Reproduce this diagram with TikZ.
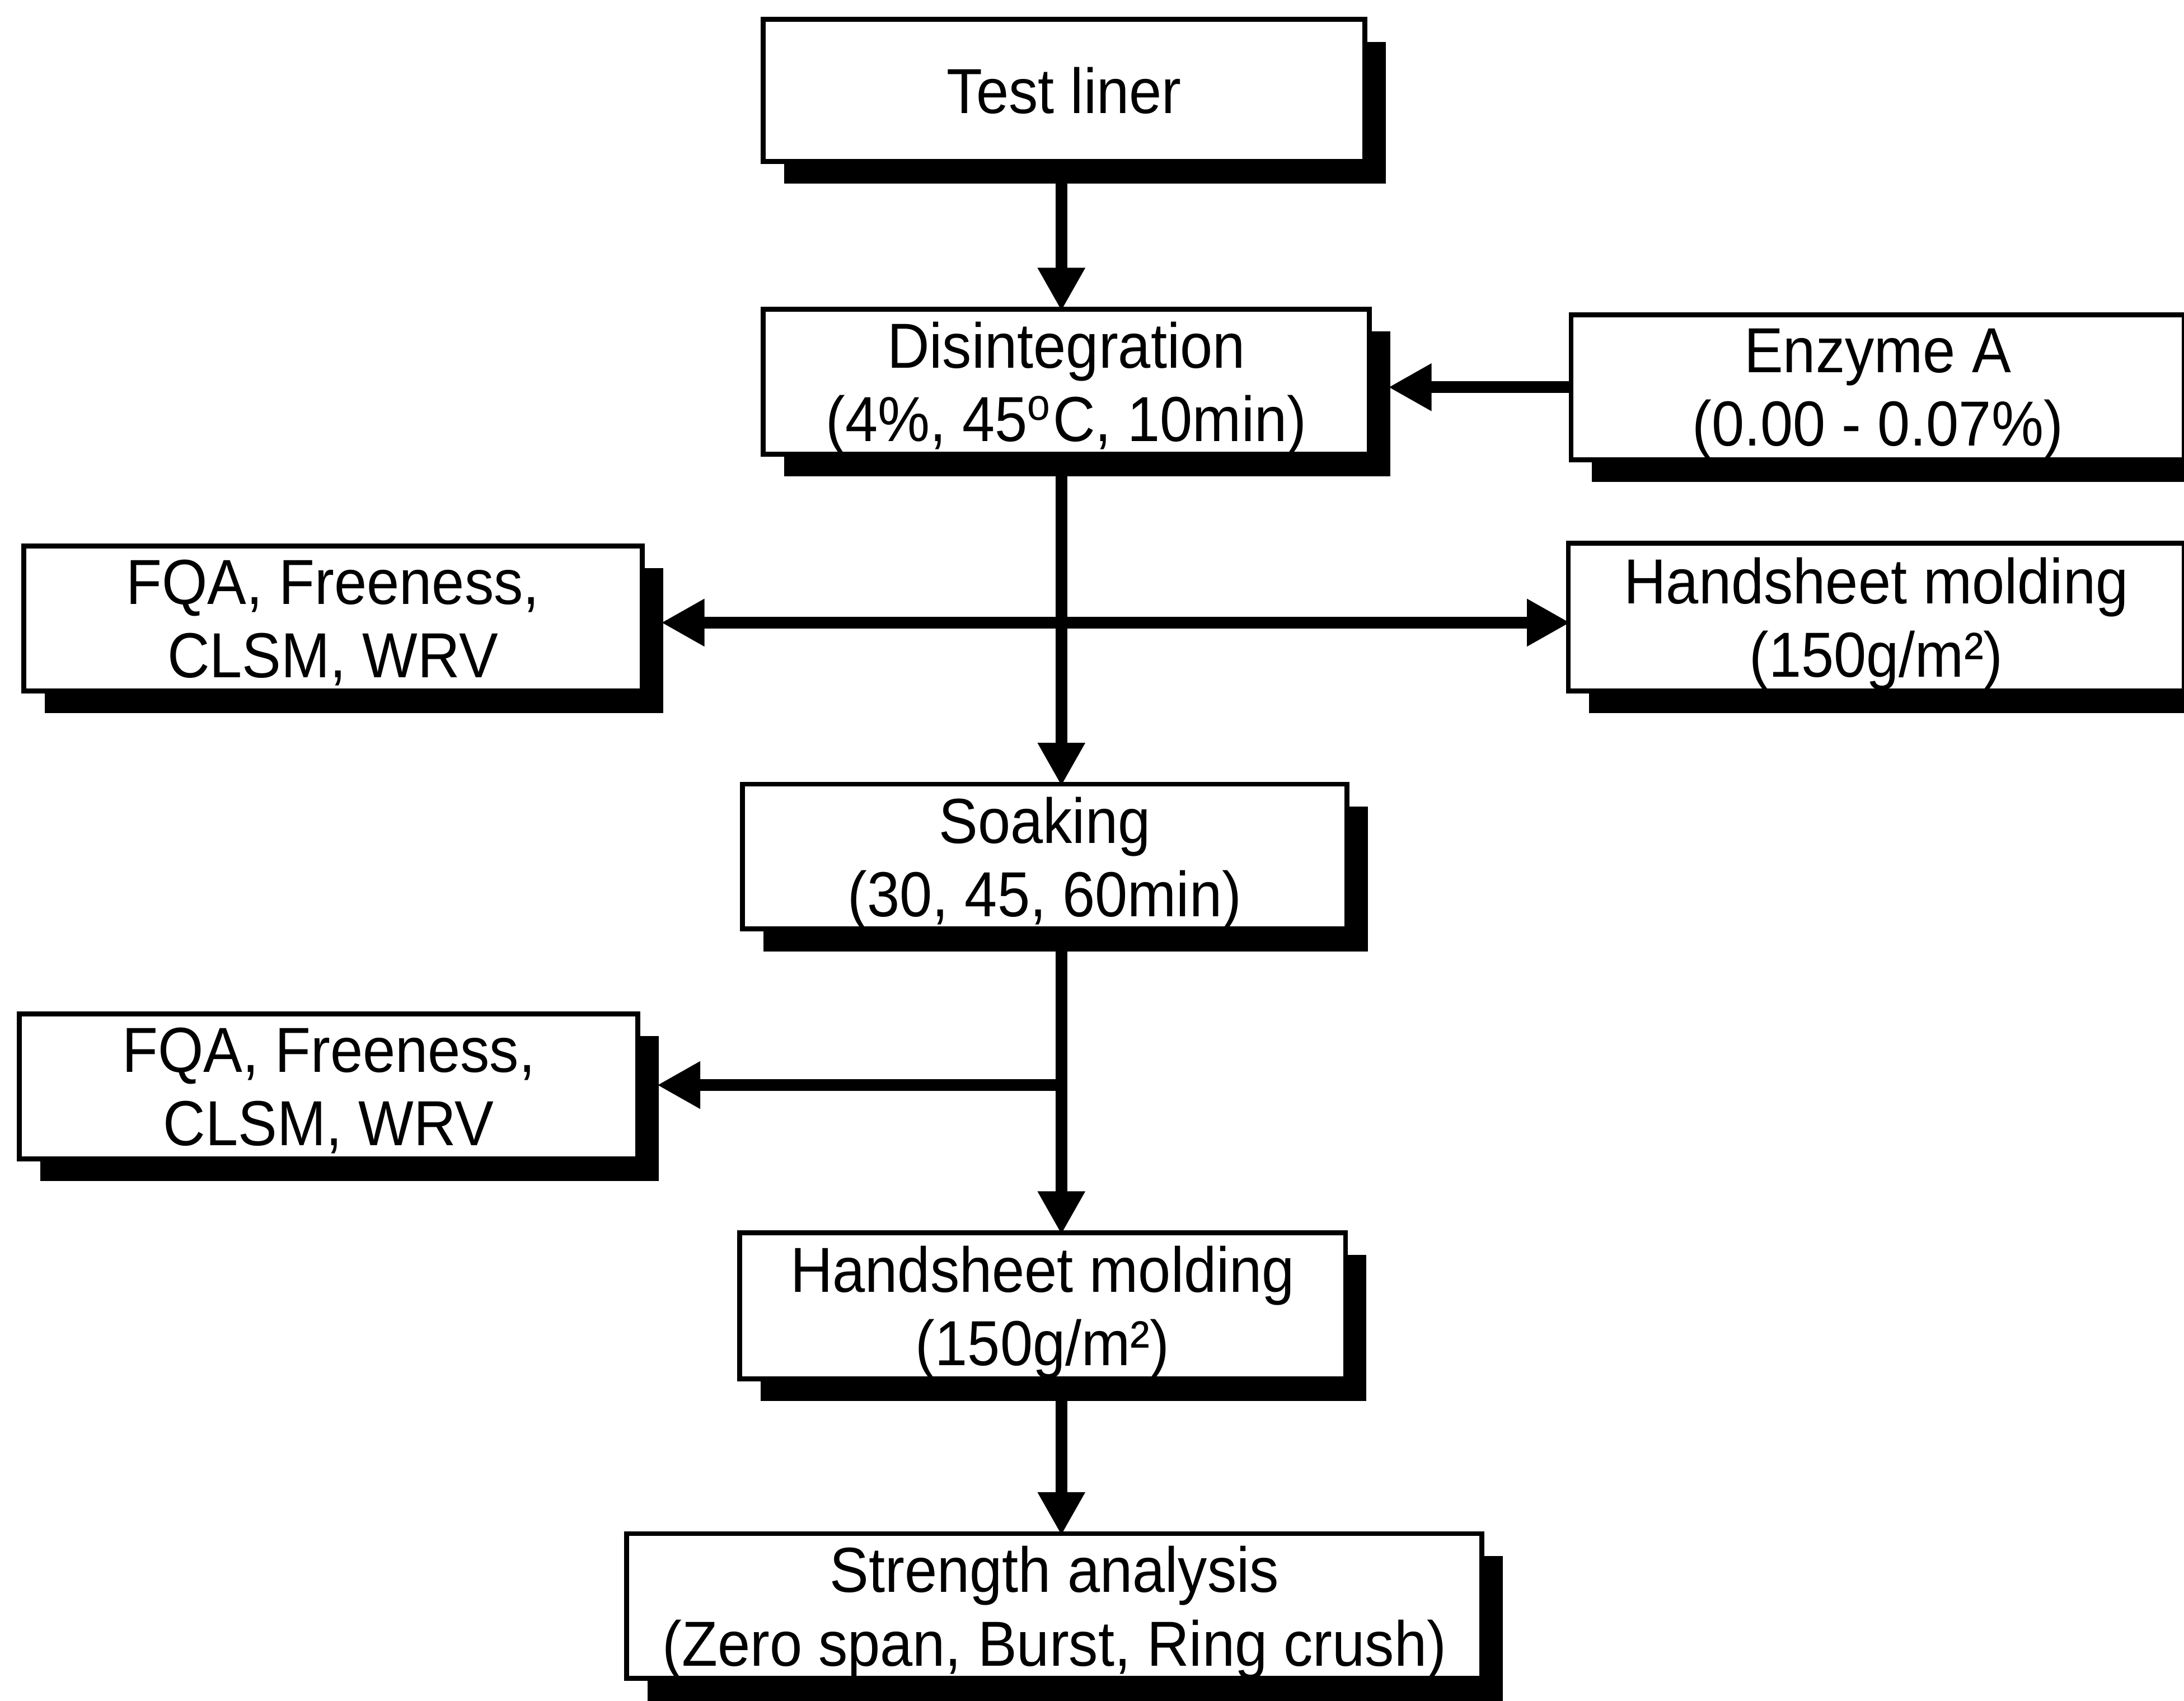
\documentclass[tikz,border=0pt]{standalone}
\usepackage{fontspec}
\setmainfont{Liberation Sans}[FakeStretch=0.92]
\usetikzlibrary{arrows.meta,shadows}

\begin{document}
\begin{tikzpicture}[line width=2.4pt, >={Triangle[length=0.31cm,width=0.32cm]}]
    \tikzstyle{stage}=[draw, line width=1pt, fill=white, align=center, inner sep=0pt,
        minimum height=1.04cm, text depth=0pt, font=\fontsize{13}{15}\selectfont,
        drop shadow={shadow xshift=0.15cm, shadow yshift=-0.16cm, fill=black, opacity=1}]
    \tikzstyle{flow}=[->, shorten >=-0.03cm]
    \useasboundingbox (0,0) rectangle (15.68,-12.21);

    % Main process column
    \node[stage, minimum width=4.32cm, minimum height=1.02cm] (test) at (7.64,-0.65) {Test liner};
    \node[stage, minimum width=4.35cm] (disint) at (7.655,-2.74) {Disintegration\\(4\%, 45\textsuperscript{o}C, 10min)};
    \node[stage, minimum width=4.34cm] (soak) at (7.50,-6.15) {Soaking\\(30, 45, 60min)};
    \node[stage, minimum width=4.35cm, minimum height=1.05cm] (mold) at (7.485,-9.375) {Handsheet molding\\(150g/m²)};
    \node[stage, minimum width=6.14cm] (strength) at (7.57,-11.53) {Strength analysis\\(Zero span, Burst, Ring crush)};
    % Side boxes
    \node[stage, minimum width=4.40cm] (enzyme) at (13.48,-2.78) {Enzyme A\\(0.00 - 0.07\%)};
    \node[stage, minimum width=4.44cm] (fqa1) at (2.39,-4.44) {FQA, Freeness,\\CLSM, WRV};
    \node[stage, minimum width=4.42cm, minimum height=1.06cm] (moldR) at (13.47,-4.43) {Handsheet molding\\(150g/m²)};
    \node[stage, minimum width=4.44cm] (fqa2) at (2.36,-7.80) {FQA, Freeness,\\CLSM, WRV};

    % Junctions and shadow edges
    \coordinate (col) at (7.62,0);
    \coordinate (split1) at (7.62,-4.47);
    \coordinate (split2) at (7.62,-7.79);
    \coordinate (disintS) at ([xshift=0.15cm]disint.east);
    \coordinate (fqa1S) at ([xshift=0.15cm]fqa1.east);
    \coordinate (fqa2S) at ([xshift=0.15cm]fqa2.east);

    % Connectors
    \draw[flow] (test.south -| col) -- (disint.north -| col);
    \draw[flow] (enzyme.west) -- (enzyme.west -| disintS);
    \draw[flow] (disint.south -| col) -- (soak.north -| col);
    \draw[flow] (split1) -- (split1 -| fqa1S);
    \draw[flow] (split1) -- (split1 -| moldR.west);
    \draw[flow] (soak.south -| col) -- (mold.north -| col);
    \draw[flow] (split2) -- (split2 -| fqa2S);
    \draw[flow] (mold.south -| col) -- (strength.north -| col);
\end{tikzpicture}
\end{document}
